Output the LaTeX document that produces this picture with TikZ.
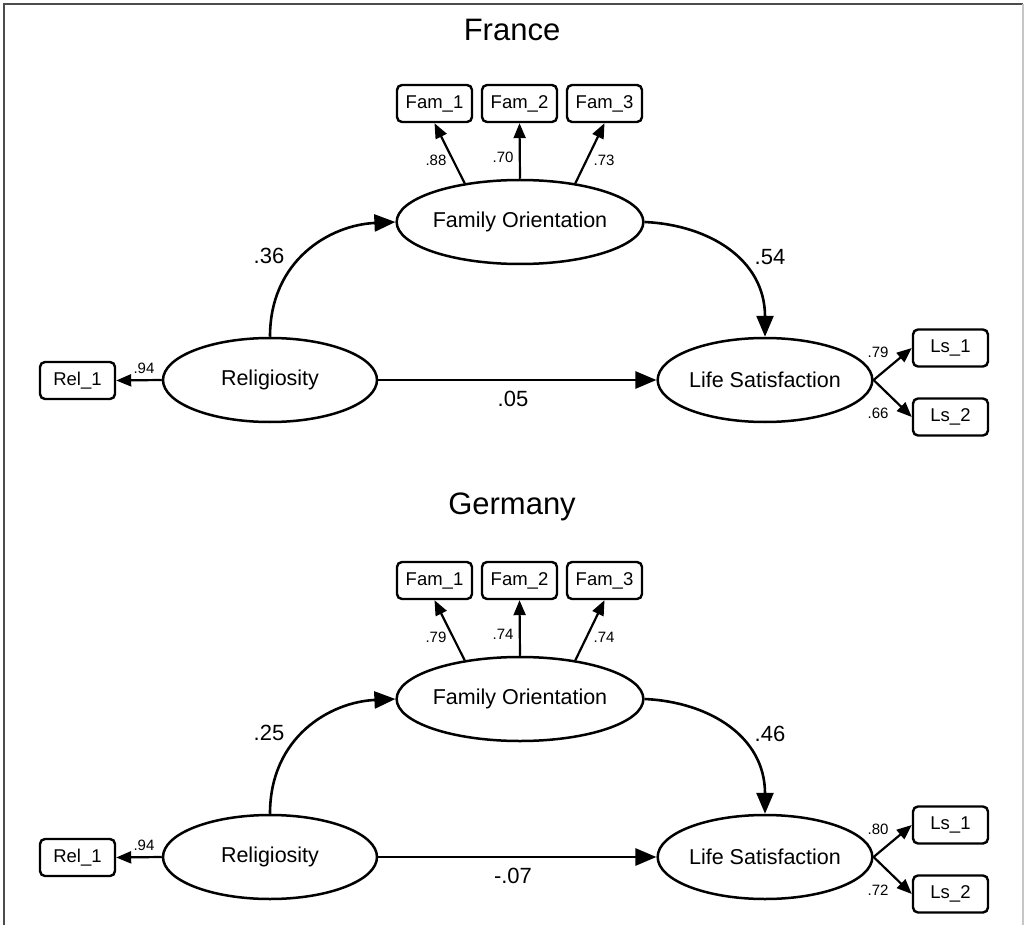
\documentclass[tikz,border=0pt]{standalone}
\usepackage{fontspec}
\setmainfont{Liberation Sans}
\usetikzlibrary{shapes.geometric,arrows.meta}
\begin{document}
\begin{tikzpicture}[x=1pt,y=-1pt,
 lat/.style={ellipse,draw,line width=2.5pt,minimum width=214pt,minimum height=84pt,inner sep=0pt,font=\fontsize{21.5}{24}\selectfont},
 obs/.style={draw,rounded corners=5pt,line width=2.4pt,minimum width=75pt,minimum height=37pt,inner sep=0pt,font=\fontsize{18.5}{20}\selectfont},
 ind/.style={line width=2.2pt,-{Triangle[length=15pt,width=12pt]}},
 reg/.style={line width=2.6pt,-{Triangle[length=21pt,width=17pt]}},
 coef/.style={font=\fontsize{22}{24}\selectfont,inner sep=0pt},
 ldg/.style={font=\fontsize{15}{17}\selectfont,inner sep=0pt},
 ttl/.style={font=\fontsize{31}{34}\selectfont,inner sep=0pt}]
\useasboundingbox (0,0) rectangle (1025,925);
\draw[gray!60!black,line width=2pt] (4,925) -- (4,4) -- (1023,4);
\draw[gray!45,line width=1.5pt] (1023,4) -- (1023,925);

% France
\begin{scope}[name prefix=F-]
\node[ttl] (T) at (512,30) {France};
\node[obs] (f1) at (434.5,103.5) {Fam\_1};
\node[obs] (f2) at (519.5,103.5) {Fam\_2};
\node[obs] (f3) at (604.5,103.5) {Fam\_3};
\node[lat] (FO) at (520,222) {Family Orientation};
\node[lat] (R) at (270,380) {Religiosity};
\node[lat] (LS) at (765,380) {Life Satisfaction};
\node[obs] (r1) at (77.5,380.5) {Rel\_1};
\node[obs] (l1) at (950.5,348) {Ls\_1};
\node[obs] (l2) at (950.5,417) {Ls\_2};
\draw[ind] (FO.145) -- (f1.south);
\draw[ind] (FO.north) -- (f2.south);
\draw[ind] (FO.35) -- (f3.south);
\draw[ind] (R.west) -- (r1.east);
\draw[ind] (LS.east) -- (l1.west);
\draw[ind] (LS.east) -- (l2.west);
\draw[reg] (R.north) .. controls (270,260) and (330,225) .. (FO.west);
\draw[reg] (FO.east) .. controls (710,225) and (765,260) .. (LS.north);
\draw[reg] (R) -- (LS);
\node[ldg] (a1) at (436,160) {.88};
\node[ldg] (a2) at (503,157) {.70};
\node[ldg] (a3) at (604,160) {.73};
\node[ldg] (a4) at (144,368) {.94};
\node[ldg] (a5) at (878,352) {.79};
\node[ldg] (a6) at (878,413) {.66};
\node[coef] (b1) at (269,256) {.36};
\node[coef] (b2) at (770,257) {.54};
\node[coef] (b3) at (513,399) {.05};
\end{scope}

% Germany
\begin{scope}[name prefix=G-,shift={(0,477)}]
\node[ttl] (T) at (512,30) {Germany};
\node[obs] (f1) at (434.5,103.5) {Fam\_1};
\node[obs] (f2) at (519.5,103.5) {Fam\_2};
\node[obs] (f3) at (604.5,103.5) {Fam\_3};
\node[lat] (FO) at (520,222) {Family Orientation};
\node[lat] (R) at (270,380) {Religiosity};
\node[lat] (LS) at (765,380) {Life Satisfaction};
\node[obs] (r1) at (77.5,380.5) {Rel\_1};
\node[obs] (l1) at (950.5,348) {Ls\_1};
\node[obs] (l2) at (950.5,417) {Ls\_2};
\draw[ind] (FO.145) -- (f1.south);
\draw[ind] (FO.north) -- (f2.south);
\draw[ind] (FO.35) -- (f3.south);
\draw[ind] (R.west) -- (r1.east);
\draw[ind] (LS.east) -- (l1.west);
\draw[ind] (LS.east) -- (l2.west);
\draw[reg] (R.north) .. controls (270,260) and (330,225) .. (FO.west);
\draw[reg] (FO.east) .. controls (710,225) and (765,260) .. (LS.north);
\draw[reg] (R) -- (LS);
\node[ldg] (a1) at (436,160) {.79};
\node[ldg] (a2) at (503,157) {.74};
\node[ldg] (a3) at (604,160) {.74};
\node[ldg] (a4) at (144,368) {.94};
\node[ldg] (a5) at (878,352) {.80};
\node[ldg] (a6) at (878,413) {.72};
\node[coef] (b1) at (269,256) {.25};
\node[coef] (b2) at (770,257) {.46};
\node[coef] (b3) at (513,399) {-.07};
\end{scope}
\end{tikzpicture}
\end{document}
